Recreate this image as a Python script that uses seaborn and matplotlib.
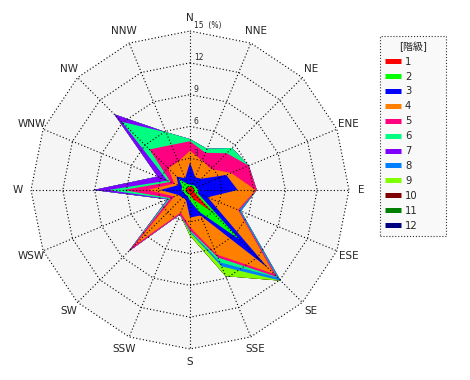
import numpy as np
import pandas as pd
import matplotlib
matplotlib.use("Agg")
import matplotlib.pyplot as plt
import seaborn as sns
from matplotlib.lines import Line2D

# 16 wind directions, clockwise from north
directions = ['N', 'NNE', 'NE', 'ENE', 'E', 'ESE', 'SE', 'SSE',
              'S', 'SSW', 'SW', 'WSW', 'W', 'WNW', 'NW', 'NNW']

class_labels = ['1', '2', '3', '4', '5', '6', '7', '8', '9', '10', '11', '12']
class_colors = ['#ff0000', '#00ff00', '#0000ff', '#ff8000', '#ff0080', '#00ff80',
                '#8000ff', '#0080ff', '#80ff00', '#800000', '#008000', '#000080']

# frequency (%) of each class per direction
cls1 = [0.3, 0.3, 0.3, 0.3, 0.4, 0.4, 2.9, 1.0, 0.5, 0.3, 0.3, 0.3, 0.5, 0.3, 0.3, 0.3]
cls2 = [0.2, 0.2, 0.3, 0.3, 0.4, 0.4, 3.7, 1.2, 0.5, 0.3, 0.3, 0.3, 0.3, 0.5, 1.2, 0.3]
cls3 = [2.1, 0.8, 0.9, 3.1, 3.7, 1.0, 3.8, 0.4, 1.6, 0.4, 0.4, 0.6, 2.0, 0.4, 0.3, 0.6]
cls4 = [1.1, 1.7, 1.3, 0.5, 1.7, 3.1, 0.8, 4.0, 0.9, 1.3, 6.4, 0.4, 1.2, 0.4, 1.1, 1.7]
cls5 = [0.9, 0.8, 2.1, 1.8, 0.1, 0.1, 0.4, 0.3, 0.3, 0.2, 0.8, 0.4, 2.3, 0.4, 2.5, 1.7]
cls6 = [0.2, 0.4, 0.7, 0.0, 0.0, 0.0, 0.1, 0.5, 0.1, 0.0, 0.0, 0.2, 1.4, 0.3, 3.7, 1.3]
cls7 = [0.0, 0.0, 0.0, 0.0, 0.0, 0.0, 0.0, 0.0, 0.0, 0.0, 0.0, 0.1, 1.4, 1.0, 1.0, 0.0]
cls8 = [0.0, 0.0, 0.0, 0.0, 0.0, 0.2, 0.4, 0.4, 0.1, 0.0, 0.0, 0.0, 0.0, 0.0, 0.0, 0.0]
cls9 = [0.0, 0.0, 0.0, 0.0, 0.0, 0.0, 0.0, 1.0, 0.3, 0.0, 0.0, 0.0, 0.0, 0.0, 0.0, 0.0]
cls10 = [0.0] * 16
cls11 = [0.0] * 16
cls12 = [0.0] * 16

ring_values = [3, 6, 9, 12, 15]

sns.set_style("white")
plt.rcParams['font.family'] = ['DejaVu Sans', 'Noto Sans CJK JP']

freq = pd.DataFrame(
    dict(zip(class_labels, [cls1, cls2, cls3, cls4, cls5, cls6, cls7, cls8,
                            cls9, cls10, cls11, cls12])),
    index=directions)
cum = freq.cumsum(axis=1)

theta = np.deg2rad(np.arange(len(directions)) * 360 / len(directions))


def to_xy(r):
    r = np.asarray(r, dtype=float)
    return r * np.sin(theta), r * np.cos(theta)


fig = plt.figure(figsize=(4.7, 3.8), dpi=100)
ax = fig.add_axes([0, 0, 380 / 470, 1])
lim = 190 / 10.6
ax.set_xlim(-lim, lim)
ax.set_ylim(-lim, lim)
ax.set_aspect('equal')
ax.axis('off')

# plot area background
bx, by = to_xy(np.full(len(directions), ring_values[-1]))
ax.fill(bx, by, color='#f5f5f5', lw=0, zorder=0)

# cumulative class polygons, outermost first
for label, color in reversed(list(zip(class_labels, class_colors))):
    x, y = to_xy(cum[label].values)
    ax.fill(x, y, color=color, lw=0, zorder=1)

# polygon grid
dots = (0, (1, 2))
for r in ring_values:
    x, y = to_xy(np.full(len(directions), r))
    ax.plot(np.append(x, x[0]), np.append(y, y[0]), color='black',
            lw=0.8, linestyle=dots, zorder=2)
for sx, sy in zip(*to_xy(np.full(len(directions), ring_values[-1]))):
    ax.plot([0, sx], [0, sy], color='black', lw=0.8, linestyle=dots, zorder=2)

for r in ring_values:
    txt = f"{r}  (%)" if r == ring_values[-1] else f"{r}"
    ax.text(0.35, r + 0.05, txt, ha='left', va='bottom', fontsize=5.5, zorder=3)

lx, ly = to_xy(np.full(len(directions), 16.2))
for d, x, y in zip(directions, lx, ly):
    ax.text(x, y, d, ha='center', va='center', fontsize=7.5)

handles = [Line2D([0], [0], color=c, lw=3.6, solid_capstyle='butt') for c in class_colors]
leg = fig.legend(handles, class_labels, title='[階級]', loc='upper left',
                 bbox_to_anchor=(375 / 470, 1 - 35 / 380, 76 / 470, 0.01),
                 mode='expand', fontsize=7.2, title_fontsize=7.2,
                 handlelength=1.6, handletextpad=0.4, labelspacing=0.49,
                 borderpad=0.5, fancybox=False, frameon=True)
frame = leg.get_frame()
frame.set_linestyle(':')
frame.set_edgecolor('black')
frame.set_linewidth(0.8)
frame.set_facecolor('#f8f8f8')

fig.savefig('out.png', dpi=100)
